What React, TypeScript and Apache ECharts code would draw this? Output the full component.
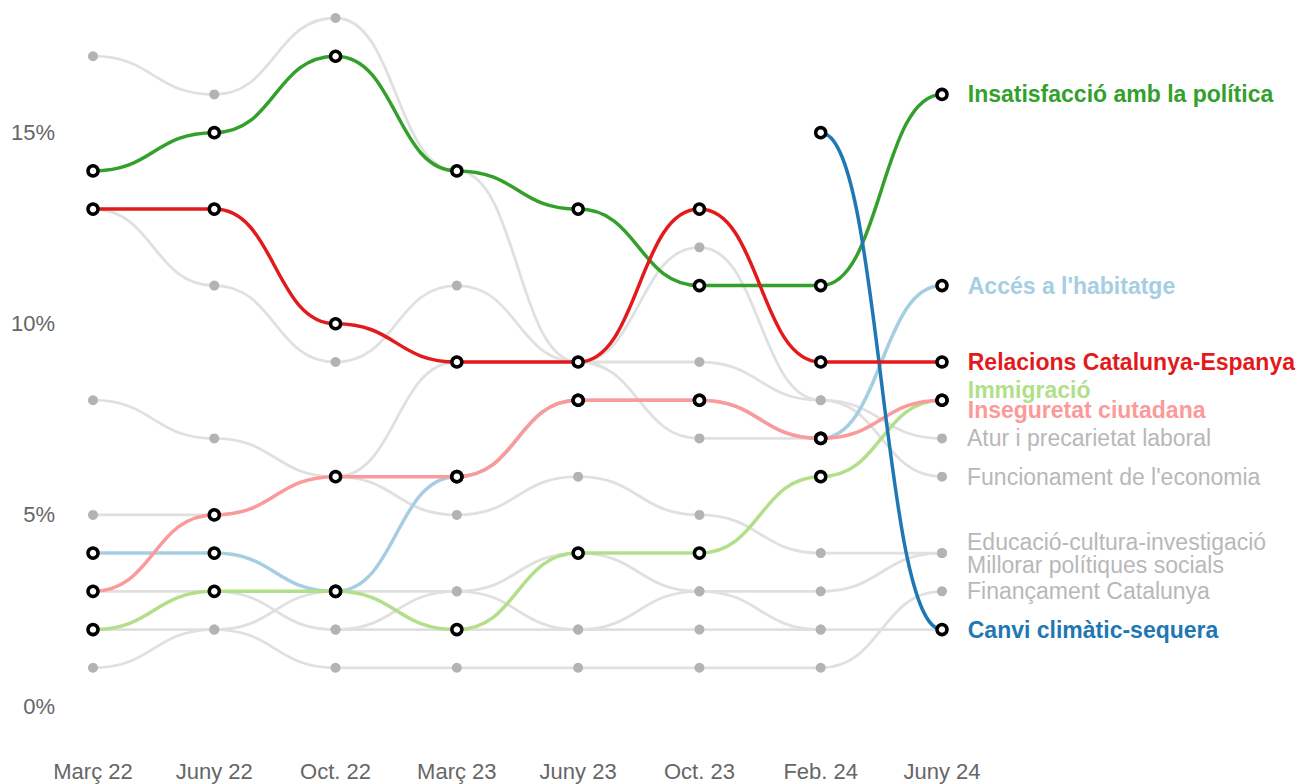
import React, { useEffect, useRef } from "react";
import * as echarts from "echarts";

const periods = ["Març 22", "Juny 22", "Oct. 22", "Març 23", "Juny 23", "Oct. 23", "Feb. 24", "Juny 24"];

const insatisfaccio = [14, 15, 17, 14, 13, 11, 11, 16];
const relacions = [13, 13, 10, 9, 9, 13, 9, 9];
const habitatge = [4, 4, 3, 6, 8, 8, 7, 11];
const immigracio = [2, 3, 3, 2, 4, 4, 6, 8];
const inseguretat = [3, 5, 6, 6, 8, 8, 7, 8];
const canviClimatic = [null, null, null, null, null, null, 15, 2];
const atur = [13, 11, 9, 11, 9, 9, 8, 7];
const economia = [17, 16, 18, 14, 9, 12, 8, 6];
const educacio = [5, 5, 6, 5, 6, 5, 4, 4];
const politiquesSocials = [3, 3, 2, 3, 4, 3, 3, 4];
const financament = [1, 2, 1, 1, 1, 1, 1, 3];
const altres1 = [8, 7, 6, 9, 9, 7, 7, null];
const altres2 = [2, 2, 3, 3, 2, 3, 2, 2];
const altres3 = [null, null, 2, 2, 2, 2, 2, null];

const yTickValues = [0, 5, 10, 15];

const GRAY_LINE = "#e0e0e0";
const GRAY_DOT = "#b3b3b3";
const GRAY_TEXT = "#b8b8b8";
const FONT = "'Liberation Sans', Arial, sans-serif";

type Topic = {
  name: string;
  values: (number | null)[];
  color: string;
  hl: boolean;
  label: boolean;
  dy: number;
};

const topics: Topic[] = [
  { name: "Altres 1", values: altres1, color: GRAY_LINE, hl: false, label: false, dy: 0 },
  { name: "Altres 2", values: altres2, color: GRAY_LINE, hl: false, label: false, dy: 0 },
  { name: "Altres 3", values: altres3, color: GRAY_LINE, hl: false, label: false, dy: 0 },
  { name: "Atur i precarietat laboral", values: atur, color: GRAY_LINE, hl: false, label: true, dy: 0 },
  { name: "Funcionament de l'economia", values: economia, color: GRAY_LINE, hl: false, label: true, dy: 0 },
  { name: "Educació-cultura-investigació", values: educacio, color: GRAY_LINE, hl: false, label: true, dy: -11 },
  { name: "Millorar polítiques socials", values: politiquesSocials, color: GRAY_LINE, hl: false, label: true, dy: 12 },
  { name: "Finançament Catalunya", values: financament, color: GRAY_LINE, hl: false, label: true, dy: 0 },
  { name: "Accés a l'habitatge", values: habitatge, color: "#a6cee3", hl: true, label: true, dy: 0 },
  { name: "Immigració", values: immigracio, color: "#b2df8a", hl: true, label: true, dy: -10 },
  { name: "Inseguretat ciutadana", values: inseguretat, color: "#fb9a99", hl: true, label: true, dy: 10 },
  { name: "Insatisfacció amb la política", values: insatisfaccio, color: "#33a02c", hl: true, label: true, dy: 0 },
  { name: "Canvi climàtic-sequera", values: canviClimatic, color: "#1f78b4", hl: true, label: true, dy: 0 },
  { name: "Relacions Catalunya-Espanya", values: relacions, color: "#e31a1c", hl: true, label: true, dy: 0 },
];

function buildSeries() {
  const series: any[] = [];
  topics.forEach((t, ti) => {
    const segs: number[][] = [];
    for (let i = 0; i < t.values.length - 1; i++) {
      const a = t.values[i];
      const b = t.values[i + 1];
      if (a != null && b != null) segs.push([i, a, b]);
    }
    const lw = t.hl ? 3.5 : 2.8;
    series.push({
      type: "custom",
      name: t.name + " línia",
      coordinateSystem: "cartesian2d",
      silent: true,
      clip: false,
      z: t.hl ? 3 : 1,
      encode: { x: 0, y: [1, 2] },
      data: segs,
      renderItem: (params: any, api: any) => {
        const i = api.value(0);
        const p0 = api.coord([i, api.value(1)]);
        const p1 = api.coord([i + 1, api.value(2)]);
        const xm = (p0[0] + p1[0]) / 2;
        return {
          type: "bezierCurve",
          z2: ti,
          shape: {
            x1: p0[0],
            y1: p0[1],
            cpx1: xm,
            cpy1: p0[1],
            cpx2: xm,
            cpy2: p1[1],
            x2: p1[0],
            y2: p1[1],
          },
          style: { stroke: t.color, lineWidth: lw, fill: null },
        };
      },
    });
  });
  topics.forEach((t) => {
    const pts: any[] = [];
    t.values.forEach((v, i) => {
      if (v == null) return;
      const item: any = { value: [i, v] };
      if (i === t.values.length - 1 && t.label) {
        item.label = {
          show: true,
          formatter: t.name,
          position: "right",
          distance: t.hl ? 19 : 20,
          offset: [0, t.dy],
          color: t.hl ? t.color : GRAY_TEXT,
          opacity: 1,
          fontSize: 23,
          fontWeight: t.hl ? "bold" : "normal",
          fontFamily: FONT,
        };
      }
      pts.push(item);
    });
    series.push({
      type: "scatter",
      name: t.name,
      silent: true,
      z: t.hl ? 6 : 4,
      symbol: "circle",
      symbolSize: t.hl ? 10 : 10,
      itemStyle: t.hl
        ? { color: "#ffffff", borderColor: "#000000", borderWidth: 3.5, opacity: 1 }
        : { color: GRAY_DOT, opacity: 1 },
      label: { show: false },
      data: pts,
    });
  });
  return series;
}

export default function App() {
  const ref = useRef<HTMLDivElement>(null);
  useEffect(() => {
    if (!ref.current) return;
    const chart = echarts.init(ref.current, null, { renderer: "svg" });
    chart.setOption({
      animation: false,
      backgroundColor: "#ffffff",
      textStyle: { fontFamily: FONT },
      grid: { left: 93, right: 359, top: 18, bottom: 78, containLabel: false },
      xAxis: {
        type: "category",
        data: periods,
        boundaryGap: false,
        axisLine: { show: false },
        axisTick: { show: false },
        splitLine: { show: false },
        axisLabel: { color: "#666666", fontSize: 22, margin: 54, fontFamily: FONT },
      },
      yAxis: {
        type: "value",
        min: 0,
        max: 18,
        interval: 5,
        axisLine: { show: false },
        axisTick: { show: false },
        splitLine: { show: false },
        axisLabel: {
          color: "#666666",
          fontSize: 22,
          margin: 38,
          fontFamily: FONT,
          formatter: (v: number) => (yTickValues.includes(v) ? v + "%" : ""),
        },
      },
      series: buildSeries(),
    });
    return () => chart.dispose();
  }, []);
  return (
    <div
      ref={ref}
      style={{ position: "fixed", left: 0, top: 0, width: 1301, height: 784, background: "#fff" }}
    />
  );
}
